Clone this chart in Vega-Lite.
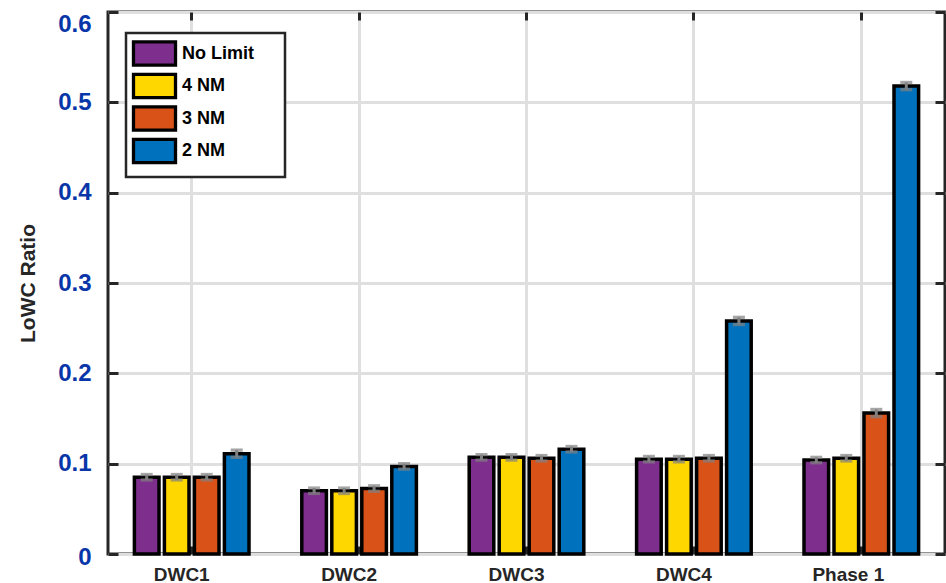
{
  "$schema": "https://vega.github.io/schema/vega-lite/v6.json",
  "width": 837,
  "height": 542,
  "autosize": {"type": "none"},
  "padding": {"left": 108, "top": 12, "right": 1, "bottom": 29},
  "background": "white",
  "config": {
    "font": "Liberation Sans",
    "view": {"stroke": "#262626", "strokeWidth": 3},
    "legend": {"strokeColor": "#262626", "strokeWidth": 2.5, "fillColor": "white"}
  },
  "data": {
    "values": [
      {"cat": "DWC1", "series": "No Limit", "value": 0.085, "lo": 0.082, "hi": 0.088},
      {"cat": "DWC1", "series": "4 NM", "value": 0.085, "lo": 0.082, "hi": 0.088},
      {"cat": "DWC1", "series": "3 NM", "value": 0.085, "lo": 0.082, "hi": 0.088},
      {"cat": "DWC1", "series": "2 NM", "value": 0.111, "lo": 0.107, "hi": 0.115},
      {"cat": "DWC2", "series": "No Limit", "value": 0.070, "lo": 0.067, "hi": 0.073},
      {"cat": "DWC2", "series": "4 NM", "value": 0.070, "lo": 0.067, "hi": 0.073},
      {"cat": "DWC2", "series": "3 NM", "value": 0.0725, "lo": 0.0695, "hi": 0.0755},
      {"cat": "DWC2", "series": "2 NM", "value": 0.097, "lo": 0.094, "hi": 0.100},
      {"cat": "DWC3", "series": "No Limit", "value": 0.107, "lo": 0.104, "hi": 0.110},
      {"cat": "DWC3", "series": "4 NM", "value": 0.107, "lo": 0.104, "hi": 0.110},
      {"cat": "DWC3", "series": "3 NM", "value": 0.106, "lo": 0.103, "hi": 0.109},
      {"cat": "DWC3", "series": "2 NM", "value": 0.116, "lo": 0.113, "hi": 0.119},
      {"cat": "DWC4", "series": "No Limit", "value": 0.105, "lo": 0.102, "hi": 0.108},
      {"cat": "DWC4", "series": "4 NM", "value": 0.105, "lo": 0.102, "hi": 0.108},
      {"cat": "DWC4", "series": "3 NM", "value": 0.106, "lo": 0.103, "hi": 0.109},
      {"cat": "DWC4", "series": "2 NM", "value": 0.258, "lo": 0.254, "hi": 0.262},
      {"cat": "Phase 1", "series": "No Limit", "value": 0.104, "lo": 0.101, "hi": 0.107},
      {"cat": "Phase 1", "series": "4 NM", "value": 0.106, "lo": 0.103, "hi": 0.109},
      {"cat": "Phase 1", "series": "3 NM", "value": 0.156, "lo": 0.152, "hi": 0.160},
      {"cat": "Phase 1", "series": "2 NM", "value": 0.518, "lo": 0.514, "hi": 0.522}
    ]
  },
  "layer": [
    {
      "mark": {"type": "bar", "stroke": "black", "strokeWidth": 3.5},
      "encoding": {
        "x": {
          "field": "cat", "type": "nominal",
          "sort": ["DWC1", "DWC2", "DWC3", "DWC4", "Phase 1"],
          "scale": {"paddingInner": 0, "paddingOuter": 0},
          "title": null,
          "axis": {
            "orient": "bottom", "domain": false, "labelAngle": 0,
            "ticks": true, "tickSize": -8, "tickWidth": 3, "tickColor": "#262626",
            "grid": true, "gridColor": "#dfdfdf", "gridWidth": 3,
            "labelFontSize": 19, "labelFontWeight": "bold", "labelColor": "#262626",
            "labelPadding": 19,
            "labelOffset": {"condition": {"test": "datum.value === 'Phase 1'", "value": -13}, "value": -10}
          }
        },
        "xOffset": {
          "field": "series", "type": "nominal",
          "sort": ["No Limit", "4 NM", "3 NM", "2 NM"],
          "scale": {"paddingInner": 0.18, "paddingOuter": 0.88}
        },
        "y": {
          "field": "value", "type": "quantitative",
          "scale": {"domain": [0, 0.6], "nice": false},
          "title": "LoWC Ratio",
          "axis": {
            "orient": "left", "domain": false,
            "values": [0, 0.1, 0.2, 0.3, 0.4, 0.5, 0.6], "format": "~g",
            "ticks": true, "tickSize": -10, "tickWidth": 3, "tickColor": "#262626",
            "grid": true, "gridColor": "#dfdfdf", "gridWidth": 3,
            "labelFontSize": 24, "labelFontWeight": "bold", "labelColor": "#0836a8",
            "labelPadding": 27,
            "labelBaseline": {"condition": {"test": "datum.value > 0.55", "value": "top"}, "value": "middle"},
            "labelOffset": {"condition": {"test": "datum.value === 0", "value": 3}, "value": 0},
            "titleFontSize": 21, "titleFontWeight": "bold", "titleColor": "#262626",
            "titlePadding": 19
          }
        },
        "color": {
          "field": "series", "type": "nominal",
          "sort": ["No Limit", "4 NM", "3 NM", "2 NM"],
          "scale": {
            "domain": ["No Limit", "4 NM", "3 NM", "2 NM"],
            "range": ["#7E2F8E", "#FFD700", "#D95319", "#0072BD"]
          },
          "legend": {
            "orient": "none", "legendX": 18, "legendY": 21,
            "title": " ", "titleOrient": "right", "titlePadding": 24, "titleFontSize": 17,
            "symbolType": "M-1.8,-1H1.8V1H-1.8Z", "symbolSize": 545,
            "symbolStrokeColor": "black", "symbolStrokeWidth": 3.3, "symbolOpacity": 1,
            "symbolOffset": 8,
            "labelFontSize": 18, "labelFontWeight": "bold", "labelColor": "black",
            "labelOffset": 14, "padding": 7, "rowPadding": -4.5
          }
        }
      }
    },
    {
      "mark": {"type": "rule", "color": "#808080", "strokeWidth": 3},
      "encoding": {
        "x": {
          "field": "cat", "type": "nominal",
          "sort": ["DWC1", "DWC2", "DWC3", "DWC4", "Phase 1"],
          "title": null,
          "axis": {
            "orient": "top", "domain": false, "labels": false,
            "ticks": true, "tickSize": -8, "tickWidth": 3, "tickColor": "#262626",
            "grid": false, "title": null
          }
        },
        "xOffset": {
          "field": "series", "type": "nominal",
          "sort": ["No Limit", "4 NM", "3 NM", "2 NM"]
        },
        "y": {
          "field": "lo", "type": "quantitative",
          "scale": {"domain": [0, 0.6], "nice": false},
          "title": null,
          "axis": {
            "orient": "right", "domain": false, "labels": false,
            "values": [0, 0.1, 0.2, 0.3, 0.4, 0.5, 0.6],
            "ticks": true, "tickSize": -10, "tickWidth": 3, "tickColor": "#262626",
            "grid": false, "title": null
          }
        },
        "y2": {"field": "hi"}
      }
    },
    {
      "mark": {"type": "tick", "color": "#808080", "size": 12, "thickness": 3.3},
      "encoding": {
        "x": {"field": "cat", "type": "nominal", "sort": ["DWC1", "DWC2", "DWC3", "DWC4", "Phase 1"], "axis": null},
        "xOffset": {"field": "series", "type": "nominal", "sort": ["No Limit", "4 NM", "3 NM", "2 NM"]},
        "y": {"field": "lo", "type": "quantitative", "axis": null}
      }
    },
    {
      "mark": {"type": "tick", "color": "#808080", "size": 12, "thickness": 3.3},
      "encoding": {
        "x": {"field": "cat", "type": "nominal", "sort": ["DWC1", "DWC2", "DWC3", "DWC4", "Phase 1"], "axis": null},
        "xOffset": {"field": "series", "type": "nominal", "sort": ["No Limit", "4 NM", "3 NM", "2 NM"]},
        "y": {"field": "hi", "type": "quantitative", "axis": null}
      }
    }
  ],
  "resolve": {"axis": {"x": "independent", "y": "independent"}}
}
